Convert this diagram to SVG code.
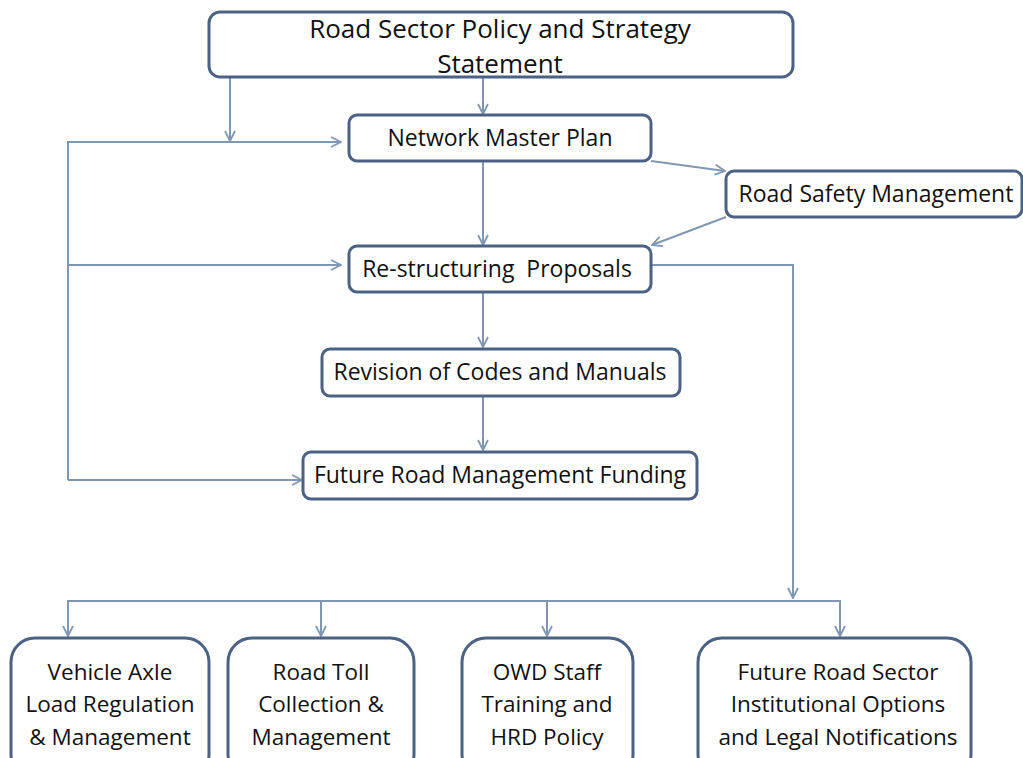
<svg xmlns="http://www.w3.org/2000/svg" width="1023" height="758" viewBox="0 0 1023 758">
<style>
.box{fill:#fff;stroke:#4b6285;stroke-width:3}
.t{font-family:"Open Sans","Liberation Sans",sans-serif;font-size:23px;fill:#111;text-anchor:middle}
.big{font-size:26px}
.sm{font-size:22.5px}
.c{fill:none;stroke:#8197b1;stroke-width:2}
</style>
<defs>
<marker id="a" viewBox="0 0 12 12" refX="11" refY="6" markerWidth="12" markerHeight="12" markerUnits="userSpaceOnUse" orient="auto">
<path d="M1,1 L11,6 L1,11" fill="none" stroke="#8197b1" stroke-width="1.8"/>
</marker>
</defs>
<rect width="1023" height="758" fill="#fff"/>
<g id="connectors">
<path class="c" d="M230,77 V141" marker-end="url(#a)"/>
<path class="c" d="M483,77 V114" marker-end="url(#a)"/>
<path class="c" d="M68,480 V142 H341" marker-end="url(#a)"/>
<path class="c" d="M68,265 H341" marker-end="url(#a)"/>
<path class="c" d="M68,480 H302" marker-end="url(#a)"/>
<path class="c" d="M483,161 V245" marker-end="url(#a)"/>
<path class="c" d="M651,161 L725,171" marker-end="url(#a)"/>
<path class="c" d="M726,217 L652,245" marker-end="url(#a)"/>
<path class="c" d="M483,292 V347" marker-end="url(#a)"/>
<path class="c" d="M483,396 V450" marker-end="url(#a)"/>
<path class="c" d="M651,265 H793 V598" marker-end="url(#a)"/>
<path class="c" d="M68,636 V601 H840 V636" marker-end="url(#a)"/>
<path class="c" d="M68,601 V636" marker-end="url(#a)"/>
<path class="c" d="M321,601 V636" marker-end="url(#a)"/>
<path class="c" d="M547,601 V636" marker-end="url(#a)"/>
</g>
<g id="policy">
<rect class="box" x="209" y="12" width="584" height="65" rx="11"/>
<text class="t big" x="500" y="38">Road Sector Policy and Strategy</text>
<text class="t big" x="500" y="73">Statement</text>
</g>
<g id="nmp">
<rect class="box" x="349" y="115" width="302" height="46" rx="8"/>
<text class="t" x="500" y="146">Network Master Plan</text>
</g>
<g id="rsm">
<rect class="box" x="726" y="171" width="296" height="46" rx="8"/>
<text class="t" x="876" y="202">Road Safety Management</text>
</g>
<g id="rsp">
<rect class="box" x="349" y="246" width="302" height="46" rx="8"/>
<text class="t" x="497" y="277" xml:space="preserve">Re-structuring  Proposals</text>
</g>
<g id="rcm">
<rect class="box" x="322" y="349" width="358" height="47" rx="8"/>
<text class="t" x="500" y="380">Revision of Codes and Manuals</text>
</g>
<g id="frmf">
<rect class="box" x="303" y="452" width="394" height="47" rx="8"/>
<text class="t" x="500" y="483">Future Road Management Funding</text>
</g>
<g id="vehicle">
<rect class="box" x="11" y="638" width="198" height="140" rx="24"/>
<text class="t sm" x="110" y="680">Vehicle Axle</text>
<text class="t sm" x="110" y="712">Load Regulation</text>
<text class="t sm" x="110" y="745">&amp; Management</text>
</g>
<g id="toll">
<rect class="box" x="228" y="638" width="186" height="140" rx="24"/>
<text class="t sm" x="321" y="680">Road Toll</text>
<text class="t sm" x="321" y="712">Collection &amp;</text>
<text class="t sm" x="321" y="745">Management</text>
</g>
<g id="owd">
<rect class="box" x="462" y="638" width="171" height="140" rx="24"/>
<text class="t sm" x="547" y="680">OWD Staff</text>
<text class="t sm" x="547" y="712">Training and</text>
<text class="t sm" x="547" y="745">HRD Policy</text>
</g>
<g id="future">
<rect class="box" x="698" y="638" width="273" height="140" rx="24"/>
<text class="t sm" x="838" y="680">Future Road Sector</text>
<text class="t sm" x="838" y="712">Institutional Options</text>
<text class="t sm" x="838" y="745">and Legal Notifications</text>
</g>
</svg>
